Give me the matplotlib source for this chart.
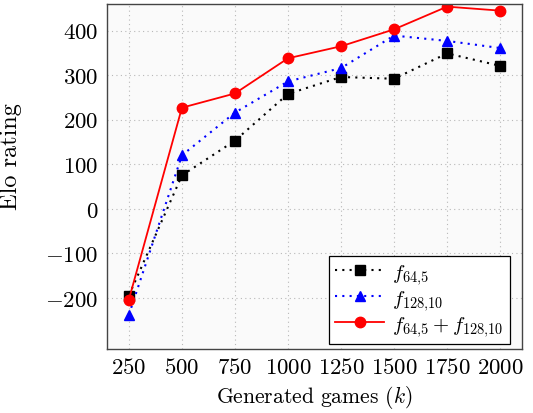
import matplotlib
matplotlib.use("Agg")
import matplotlib.pyplot as plt

plt.rcParams['font.family'] = ['cmr10', 'DejaVu Serif']
plt.rcParams['mathtext.fontset'] = 'cm'
plt.rcParams['axes.unicode_minus'] = False

games = [250, 500, 750, 1000, 1250, 1500, 1750, 2000]
f64 = [-195, 75, 153, 258, 296, 292, 349, 321]
f128 = [-238, 120, 216, 286, 316, 389, 377, 361]
combo = [-204, 227, 259, 338, 365, 403, 454, 445]
yticks = [-200, -100, 0, 100, 200, 300, 400]

fig = plt.figure(figsize=(5.33, 4.14), dpi=100)
ax = fig.add_axes([0.2008, 0.1546, 0.7786, 0.8334])
ax.set_facecolor('#fafafa')

ax.plot(games, f64, color='black', linestyle=(0, (1, 2.5)), linewidth=1.5,
        marker='s', markersize=7, label=r'$f_{64{,}5}$')
ax.plot(games, f128, color='blue', linestyle=(0, (1, 2.5)), linewidth=1.5,
        marker='^', markersize=7.5, label=r'$f_{128{,}10}$')
ax.plot(games, combo, color='red', linestyle='-', linewidth=1.3,
        marker='o', markersize=7.5, label=r'$f_{64{,}5}+f_{128{,}10}$')

ax.set_xlim(147, 2103)
ax.set_ylim(-315, 460)
ax.set_xticks(games)
ax.set_xticklabels([f'${g}$' for g in games])
ax.set_yticks(yticks)
ax.set_yticklabels([f'${y}$' if y >= 0 else f'$-{abs(y)}$' for y in yticks])
ax.tick_params(length=0, labelsize=16.5, pad=6)
ax.grid(True, color='#b8b8b8', linestyle=(0, (1, 3)), linewidth=0.8)
for s in ax.spines.values():
    s.set_color('#444444')
    s.set_linewidth(1.0)

ax.set_xlabel(r'Generated games $(k)$', fontsize=15.5, labelpad=4)
ax.set_ylabel('Elo rating', fontsize=17.5)
ax.yaxis.set_label_coords(-0.205, 0.56)

leg = ax.legend(loc='lower right', fontsize=14.8, fancybox=False, framealpha=1,
                edgecolor='black', handlelength=2.4, borderpad=0.3,
                labelspacing=0.1, handletextpad=0.4, borderaxespad=0,
                bbox_to_anchor=(0.971, 0.015))
leg.get_frame().set_linewidth(0.9)

fig.savefig('out.png', dpi=100)
